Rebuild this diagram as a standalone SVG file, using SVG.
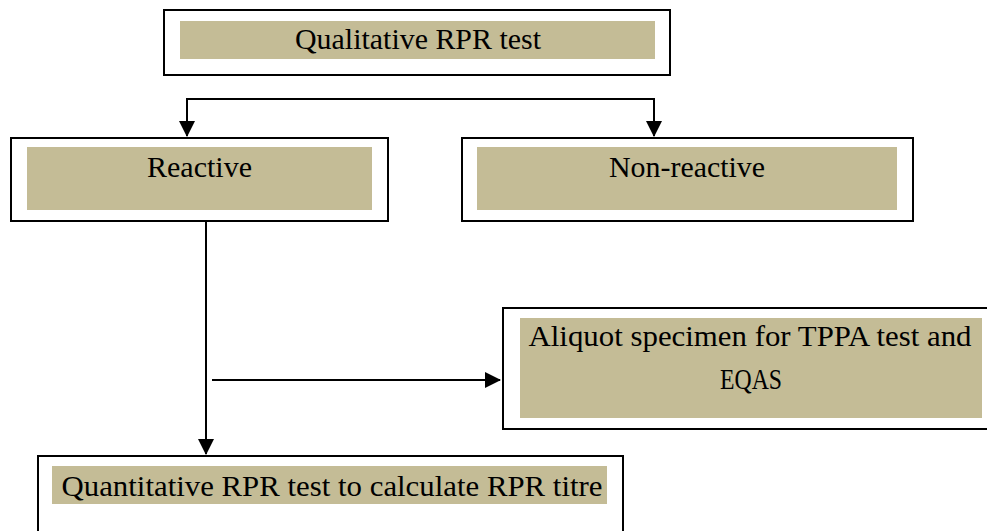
<svg xmlns="http://www.w3.org/2000/svg" width="987" height="531" viewBox="0 0 987 531">
<defs>
<style>
.box{fill:#fff;stroke:#000;stroke-width:2}
.fill{fill:#C4BC96}
.t{font-family:"Liberation Serif","DejaVu Serif",serif;font-size:29px;fill:#000;text-anchor:middle}
.c{fill:none;stroke:#000;stroke-width:2}
</style>
<marker id="ah" markerWidth="8" markerHeight="8" refX="7.5" refY="4" orient="auto" markerUnits="strokeWidth">
<path d="M0,0 L8,4 L0,8 Z" fill="#000"/>
</marker>
</defs>
<rect width="987" height="531" fill="#fff"/>
<g id="connectors">
<path class="c" d="M187,99 H654"/>
<path class="c" d="M187,98 V136" marker-end="url(#ah)"/>
<path class="c" d="M654,98 V136" marker-end="url(#ah)"/>
<path class="c" d="M206,222 V454" marker-end="url(#ah)"/>
<path class="c" d="M212,380 H500" marker-end="url(#ah)"/>
</g>
<g id="qualitative">
<rect class="box" x="164" y="10" width="506" height="65"/>
<rect class="fill" x="180" y="21" width="475" height="38"/>
<text class="t" x="418" y="49" textLength="246" lengthAdjust="spacingAndGlyphs">Qualitative RPR test</text>
</g>
<g id="reactive">
<rect class="box" x="11" y="138" width="377" height="83"/>
<rect class="fill" x="27" y="147" width="345" height="63"/>
<text class="t" x="199.5" y="177" textLength="105" lengthAdjust="spacingAndGlyphs">Reactive</text>
</g>
<g id="nonreactive">
<rect class="box" x="462" y="138" width="451" height="83"/>
<rect class="fill" x="477" y="147" width="420" height="63"/>
<text class="t" x="687" y="177" textLength="156" lengthAdjust="spacingAndGlyphs">Non-reactive</text>
</g>
<g id="aliquot">
<rect class="box" x="503" y="308" width="490" height="121"/>
<rect class="fill" x="520" y="318" width="462" height="100"/>
<text class="t" x="750" y="346" textLength="443" lengthAdjust="spacingAndGlyphs">Aliquot specimen for TPPA test and</text>
<text class="t" x="751" y="389" textLength="62" lengthAdjust="spacingAndGlyphs">EQAS</text>
</g>
<g id="quantitative">
<rect class="box" x="38" y="456" width="585" height="90"/>
<rect class="fill" x="52" y="466" width="555" height="38"/>
<text class="t" x="332" y="496" textLength="541" lengthAdjust="spacingAndGlyphs">Quantitative RPR test to calculate RPR titre</text>
</g>
</svg>
